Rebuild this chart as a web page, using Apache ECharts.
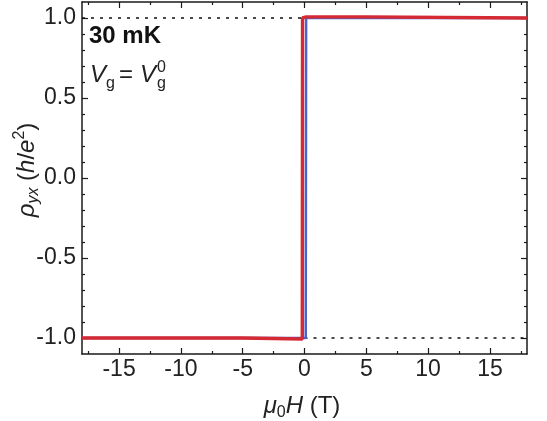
<!DOCTYPE html>
<html><head><meta charset="utf-8">
<script src="https://cdn.jsdelivr.net/npm/echarts@6/dist/echarts.min.js"></script>
<style>html,body{margin:0;padding:0;background:#fff}#c{width:547px;height:421px}</style>
</head><body><div id="c"></div>
<script>
// ---- data ----
const xMajorTicks = [-15, -10, -5, 0, 5, 10, 15];
const xMinorTicks = [-17.5, -12.5, -7.5, -2.5, 2.5, 7.5, 12.5, 17.5];
const yMajorTicks = [-1.0, -0.5, 0.0, 0.5, 1.0];
const yMinorTicks = [-0.9, -0.8, -0.7, -0.6, -0.4, -0.3, -0.2, -0.1, 0.1, 0.2, 0.3, 0.4, 0.6, 0.7, 0.8, 0.9];
// red sweep
const fieldRed = [-18, -5, -5, -0.18, -0.16, 0.15, 5, 5, 18];
const rhoRed   = [-1.0, -1.0, -1.006, -1.006, 1.0, 1.007, 1.007, 1.0, 1.0];
// blue sweep
const fieldBlue = [-18, 0.1, 0.13, 18];
const rhoBlue   = [-1.0, -1.0, 1.0, 1.0];
// dotted reference lines (quantized values)
const fieldRefTop = [-18, 0];
const rhoRefTop = [1.0, 1.0];
const fieldRefBottom = [0, 18];
const rhoRefBottom = [-1.0, -1.0];

const zip = (a, b) => a.map((v, i) => [v, b[i]]);
const FONT = 'Liberation Sans, Arial, Helvetica, sans-serif';
const AX = '#1a1a1a';
const TXT = '#222';
const axLine = {show: true, onZero: false, lineStyle: {color: AX, width: 1.5}};
const noLine = {show: false, onZero: false};
const tickStyle = {color: AX, width: 1.2};

function xAx(pos, major, labels) {
  return {
    type: 'value', min: -18, max: 18, position: pos,
    splitLine: {show: false},
    axisLine: major ? axLine : noLine,
    axisTick: {show: true, inside: true, length: major ? 6 : 3, lineStyle: tickStyle,
               customValues: major ? xMajorTicks : xMinorTicks},
    axisLabel: labels ? {show: true, customValues: xMajorTicks, fontSize: 23, fontFamily: FONT,
               color: TXT, margin: 4} : {show: false}
  };
}
function yAx(pos, major, labels) {
  return {
    type: 'value', min: -1.1, max: 1.1, position: pos,
    splitLine: {show: false},
    axisLine: major ? axLine : noLine,
    axisTick: {show: true, inside: true, length: major ? 6 : 3, lineStyle: tickStyle,
               customValues: major ? yMajorTicks : yMinorTicks},
    axisLabel: labels ? {show: true, customValues: yMajorTicks, fontSize: 23, fontFamily: FONT,
               color: TXT, margin: 6, formatter: v => v.toFixed(1)} : {show: false}
  };
}

const chart = echarts.init(document.getElementById('c'), null, {renderer: 'canvas'});
chart.setOption({
  animation: false,
  backgroundColor: '#fff',
  grid: {left: 82, right: 20, top: 2, bottom: 67, containLabel: false},
  xAxis: [xAx('bottom', true, true), xAx('bottom', false, false), xAx('top', true, false), xAx('top', false, false)],
  yAxis: [yAx('left', true, true), yAx('left', false, false), yAx('right', true, false), yAx('right', false, false)],
  series: [
    {type: 'line', data: zip(fieldRefTop, rhoRefTop), showSymbol: false, silent: true,
     lineStyle: {color: '#111', width: 1.5, type: [3, 6]}},
    {type: 'line', data: zip(fieldRefBottom, rhoRefBottom), showSymbol: false, silent: true,
     lineStyle: {color: '#111', width: 1.5, type: [3, 6]}},
    {type: 'line', data: zip(fieldBlue, rhoBlue), showSymbol: false, silent: true,
     lineStyle: {color: '#4a62c9', width: 2.5}},
    {type: 'line', data: zip(fieldRed, rhoRed), showSymbol: false, silent: true,
     lineStyle: {color: '#d52a33', width: 3.4}}
  ],
  graphic: [
    {type: 'text', x: 89, y: 36, style: {text: '30 mK', font: 'bold 24px ' + FONT, fill: '#111', verticalAlign: 'middle'}},
    {type: 'text', x: 90, y: 75, style: {text: 'V', font: 'italic 24px ' + FONT, fill: TXT, verticalAlign: 'middle'}},
    {type: 'text', x: 106, y: 84, style: {text: 'g', font: '16px ' + FONT, fill: TXT, verticalAlign: 'middle'}},
    {type: 'text', x: 119, y: 75, style: {text: '=', font: '24px ' + FONT, fill: TXT, verticalAlign: 'middle'}},
    {type: 'text', x: 140, y: 75, style: {text: 'V', font: 'italic 24px ' + FONT, fill: TXT, verticalAlign: 'middle'}},
    {type: 'text', x: 157, y: 84, style: {text: 'g', font: '16px ' + FONT, fill: TXT, verticalAlign: 'middle'}},
    {type: 'text', x: 157, y: 68, style: {text: '0', font: '16px ' + FONT, fill: TXT, verticalAlign: 'middle'}},
    {type: 'text', x: 302, y: 406, style: {
      text: '{i|μ}{s|0}{i|H}{n| (T)}', align: 'center', verticalAlign: 'middle',
      rich: {
        i: {font: 'italic 24px ' + FONT, fill: TXT, lineHeight: 30, verticalAlign: 'middle'},
        n: {font: '24px ' + FONT, fill: TXT, lineHeight: 30, verticalAlign: 'middle'},
        s: {font: '16px ' + FONT, fill: TXT, lineHeight: 16, verticalAlign: 'bottom'}
      }}},
    {type: 'text', x: 27, y: 170, rotation: Math.PI / 2, style: {
      text: '{i|ρ}{s|yx}{n| (}{i|h}{n|/}{i|e}{p|2}{n|)}', align: 'center', verticalAlign: 'middle',
      rich: {
        i: {font: 'italic 24px ' + FONT, fill: TXT, lineHeight: 30, verticalAlign: 'middle'},
        n: {font: '24px ' + FONT, fill: TXT, lineHeight: 30, verticalAlign: 'middle'},
        s: {font: 'italic 16px ' + FONT, fill: TXT, lineHeight: 16, verticalAlign: 'bottom'},
        p: {font: '16px ' + FONT, fill: TXT, lineHeight: 16, verticalAlign: 'top'}
      }}}
  ]
});
</script></body></html>
